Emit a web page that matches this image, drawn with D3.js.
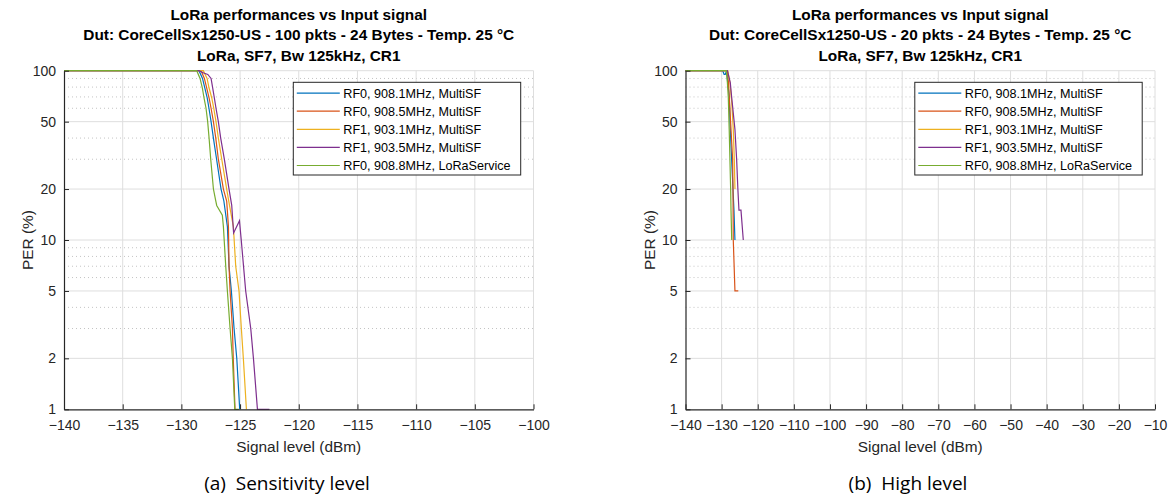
<!DOCTYPE html>
<html>
<head>
<meta charset="utf-8">
<script src="https://cdn.jsdelivr.net/npm/d3@7"></script>
<style>
    body { margin: 0; background: #fff; }
    text { font-family: "Liberation Sans", Arial, sans-serif; }
</style>
</head>
<body>
<svg id="chart" width="1170" height="497"></svg>
<script>
// legend labels (same for both panels)
const seriesNames = [
    "RF0, 908.1MHz, MultiSF",
    "RF0, 908.5MHz, MultiSF",
    "RF1, 903.1MHz, MultiSF",
    "RF1, 903.5MHz, MultiSF",
    "RF0, 908.8MHz, LoRaService"
];

// sensitivity level data, [signal dBm, PER %]
const sensRF0_9081 = [[-140, 100], [-128.5, 100], [-128.2, 90], [-128.0, 79], [-127.8, 69], [-127.65, 60], [-127.47, 50], [-127.27, 40], [-127.0, 30], [-126.62, 20], [-126.38, 17], [-126.08, 12], [-125.94, 7], [-125.74, 5], [-125.51, 3], [-125.28, 2], [-125.03, 1]];
const sensRF0_9085 = [[-140, 100], [-128.32, 100], [-128.04, 90], [-127.84, 79], [-127.64, 69], [-127.47, 60], [-127.27, 50], [-127.07, 40], [-126.85, 30], [-126.42, 20], [-126.14, 17], [-125.99, 12], [-125.94, 7], [-125.85, 5], [-125.65, 3], [-125.58, 2], [-125.43, 1]];
const sensRF1_9031 = [[-140, 100], [-128.13, 100], [-127.81, 90], [-127.64, 79], [-127.41, 69], [-127.24, 60], [-127.05, 50], [-126.85, 40], [-126.56, 30], [-126.14, 20], [-125.9, 16], [-125.57, 12], [-125.37, 7], [-125.09, 5], [-124.89, 3], [-124.72, 2], [-124.46, 1]];
const sensRF1_9035 = [[-140, 100], [-128.5, 100], [-128.1, 97], [-127.75, 95], [-127.47, 90], [-127.33, 79], [-127.19, 69], [-127.05, 60], [-126.85, 50], [-126.65, 40], [-126.34, 30], [-125.94, 20], [-125.71, 16], [-125.55, 11], [-125.05, 13], [-124.9, 10], [-124.52, 5], [-124.09, 3], [-123.86, 2], [-123.52, 1], [-122.5, 1]];
const sensRF0_9088 = [[-140, 100], [-128.69, 100], [-128.41, 90], [-128.21, 79], [-128.07, 69], [-127.9, 60], [-127.76, 50], [-127.64, 40], [-127.5, 30], [-127.27, 20], [-127.07, 17], [-126.99, 16], [-126.51, 14], [-126.42, 12], [-126.22, 7], [-126.08, 5], [-125.85, 3], [-125.65, 2], [-125.45, 1], [-125.1, 1]];

// high level data, [signal dBm, PER %]
const highRF0_9081 = [[-140, 100], [-129.7, 100], [-129.3, 95], [-129.0, 95], [-128.6, 100], [-128.3, 85], [-127.88, 70], [-127.69, 50], [-127.23, 30], [-126.58, 15], [-126.31, 10]];
const highRF0_9085 = [[-140, 100], [-128.4, 100], [-128.1, 85], [-127.88, 70], [-127.4, 45], [-126.95, 30], [-126.85, 20], [-126.77, 10], [-126.31, 5], [-125.38, 5]];
const highRF1_9031 = [[-140, 100], [-128.3, 100], [-127.7, 85], [-127.2, 65], [-126.77, 45], [-126.49, 30], [-126.3, 20]];
const highRF1_9035 = [[-140, 100], [-128.4, 100], [-127.6, 85], [-127.23, 70], [-126.31, 45], [-125.84, 30], [-125.5, 20], [-125.2, 15], [-124.64, 15], [-124.0, 10]];
const highRF0_9088 = [[-140, 100], [-128.7, 100], [-128.4, 85], [-128.15, 70], [-127.9, 45], [-127.7, 30], [-127.5, 20], [-127.4, 15], [-127.2, 10]];

// tick labels
const sensTicks = [-140, -135, -130, -125, -120, -115, -110, -105, -100];
const highTicks = [-140, -130, -120, -110, -100, -90, -80, -70, -60, -50, -40, -30, -20, -10];
const perTicks = [1, 2, 5, 10, 20, 50, 100];
const perMinor = [3, 4, 6, 7, 8, 9, 30, 40, 60, 70, 80, 90];

// titles and captions
const sensTitle = ["LoRa performances vs Input signal", "Dut: CoreCellSx1250-US - 100 pkts - 24 Bytes - Temp. 25 °C", "LoRa, SF7, Bw 125kHz, CR1"];
const highTitle = ["LoRa performances vs Input signal", "Dut: CoreCellSx1250-US - 20 pkts - 24 Bytes - Temp. 25 °C", "LoRa, SF7, Bw 125kHz, CR1"];
const sensCaption = "(a)  Sensitivity level";
const highCaption = "(b)  High level";

// matlab default line colors
const colors = ["#0072BD", "#D95319", "#EDB120", "#7E2F8E", "#77AC30"];

let svg = d3.select("#chart");

drawPanel({
    left: 64, right: 533.5,
    domain: [-140, -100], ticks: sensTicks,
    series: [sensRF0_9081, sensRF0_9085, sensRF1_9031, sensRF1_9035, sensRF0_9088],
    title: sensTitle, caption: sensCaption, captionX: 287
});

drawPanel({
    left: 685.5, right: 1155,
    domain: [-140, -10], ticks: highTicks,
    series: [highRF0_9081, highRF0_9085, highRF1_9031, highRF1_9035, highRF0_9088],
    title: highTitle, caption: highCaption, captionX: 908
});

// draws one matlab-like semilogy panel
function drawPanel(p) {
    let top = 70.7, bottom = 409.3;
    let cx = (p.left + p.right) / 2;

    let x = d3.scaleLinear().domain(p.domain).range([p.left, p.right]);
    let y = d3.scaleLog().domain([1, 100]).range([bottom, top]);

    let g = svg.append("g");

    // minor grid (dotted)
    g.selectAll(".minor").data(perMinor).enter().append("line")
        .attr("x1", p.left).attr("x2", p.right)
        .attr("y1", d => y(d)).attr("y2", d => y(d))
        .attr("stroke", "#c4c4c4")
        .attr("stroke-width", 1)
        .attr("stroke-dasharray", "1,3");

    // major grid
    g.selectAll(".gy").data(perTicks.slice(1)).enter().append("line")
        .attr("x1", p.left).attr("x2", p.right)
        .attr("y1", d => y(d)).attr("y2", d => y(d))
        .attr("stroke", "#dedede");
    g.selectAll(".gx").data(p.ticks.slice(1)).enter().append("line")
        .attr("x1", d => x(d)).attr("x2", d => x(d))
        .attr("y1", top).attr("y2", bottom)
        .attr("stroke", "#dedede");

    // data lines
    let line = d3.line()
        .x(d => x(d[0]))
        .y(d => y(d[1]));

    g.selectAll(".series").data(p.series).enter().append("path")
        .attr("d", line)
        .attr("fill", "none")
        .attr("stroke", (d, i) => colors[i])
        .attr("stroke-width", 1.2);

    // x axis, ticks inward
    let xAxis = g.append("g")
        .attr("transform", "translate(0," + bottom + ")")
        .call(d3.axisBottom(x).tickValues(p.ticks).tickFormat(d3.format("d")).tickSizeInner(-5).tickSizeOuter(0).tickPadding(11));
    xAxis.select(".domain").attr("stroke", "#262626").attr("stroke-width", 1.2);
    xAxis.selectAll(".tick line").attr("stroke", "#262626");
    xAxis.selectAll("text")
        .style("font-size", "14px")
        .attr("fill", "#262626");

    // y axis
    let yAxis = g.append("g")
        .attr("transform", "translate(" + p.left + ",0)")
        .call(d3.axisLeft(y).tickValues(perTicks).tickFormat(d3.format("d")).tickSizeInner(-5).tickSizeOuter(0).tickPadding(8));
    yAxis.select(".domain").attr("stroke", "#262626").attr("stroke-width", 1.2);
    yAxis.selectAll(".tick line").attr("stroke", "#262626");
    yAxis.selectAll("text")
        .style("font-size", "14px")
        .attr("fill", "#262626");

    // axis labels
    g.append("text")
        .attr("x", cx).attr("y", 451.5)
        .attr("text-anchor", "middle")
        .style("font-size", "15.4px")
        .attr("fill", "#262626")
        .text("Signal level (dBm)");
    g.append("text")
        .attr("transform", "translate(" + (p.left - 31) + "," + ((top + bottom) / 2) + ") rotate(-90)")
        .attr("text-anchor", "middle")
        .style("font-size", "15.4px")
        .attr("fill", "#262626")
        .text("PER (%)");

    // title lines
    g.selectAll(".title").data(p.title).enter().append("text")
        .attr("x", cx)
        .attr("y", (d, i) => 19.5 + i * 20.8)
        .attr("text-anchor", "middle")
        .style("font-size", "15.4px")
        .style("font-weight", "bold")
        .attr("fill", "#000")
        .text(d => d);

    // legend, inset from the top right corner
    let lx = p.right - 240.2, ly = 82.3;
    let legend = g.append("g");
    legend.append("rect")
        .attr("x", lx).attr("y", ly)
        .attr("width", 227.4).attr("height", 92.7)
        .attr("fill", "#fff")
        .attr("stroke", "#262626")
        .attr("stroke-width", 1);
    seriesNames.forEach(function (name, i) {
        let ry = ly + 10.8 + i * 18.1;
        legend.append("line")
            .attr("x1", lx + 3.5).attr("x2", lx + 46.5)
            .attr("y1", ry).attr("y2", ry)
            .attr("stroke", colors[i])
            .attr("stroke-width", 1.2);
        legend.append("text")
            .attr("x", lx + 50).attr("y", ry + 4.5)
            .style("font-size", "12.6px")
            .attr("fill", "#000")
            .text(name);
    });

    // subfigure caption
    g.append("text")
        .attr("x", p.captionX).attr("y", 490)
        .attr("text-anchor", "middle")
        .style("font-family", "'Open Sans', sans-serif")
        .style("font-size", "19px")
        .style("white-space", "pre")
        .attr("fill", "#000")
        .text(p.caption);
}
</script>
</body>
</html>
